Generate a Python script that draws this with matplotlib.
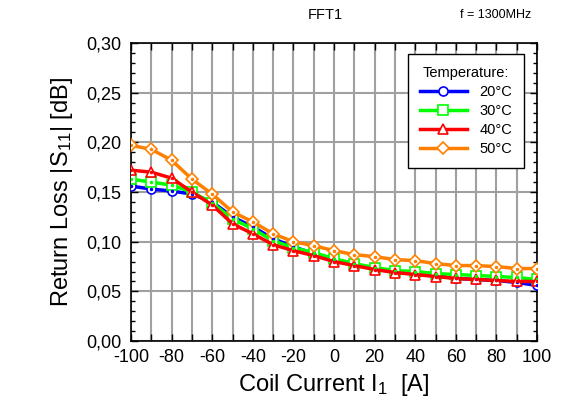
import matplotlib
matplotlib.use("Agg")
import matplotlib.pyplot as plt
from matplotlib.ticker import FuncFormatter, MultipleLocator

plt.rcParams['font.family'] = ['Liberation Sans', 'DejaVu Sans']
plt.rcParams['mathtext.fontset'] = 'custom'
plt.rcParams['mathtext.rm'] = 'Liberation Sans'
plt.rcParams['mathtext.it'] = 'Liberation Sans'
plt.rcParams['axes.unicode_minus'] = False

current = [-100, -90, -80, -70, -60, -50, -40, -30, -20, -10, 0,
           10, 20, 30, 40, 50, 60, 70, 80, 90, 100]

loss_20 = [0.156, 0.153, 0.151, 0.148, 0.140, 0.125, 0.115, 0.103, 0.095, 0.088, 0.082,
           0.077, 0.073, 0.070, 0.068, 0.066, 0.063, 0.062, 0.061, 0.059, 0.056]
loss_30 = [0.163, 0.160, 0.157, 0.150, 0.139, 0.123, 0.113, 0.101, 0.094, 0.089, 0.083,
           0.078, 0.074, 0.071, 0.070, 0.068, 0.067, 0.066, 0.065, 0.064, 0.062]
loss_40 = [0.172, 0.170, 0.164, 0.150, 0.137, 0.118, 0.108, 0.097, 0.091, 0.086, 0.080,
           0.076, 0.072, 0.069, 0.067, 0.065, 0.063, 0.062, 0.061, 0.060, 0.060]
loss_50 = [0.197, 0.193, 0.182, 0.163, 0.148, 0.130, 0.120, 0.108, 0.100, 0.096, 0.091,
           0.087, 0.085, 0.082, 0.081, 0.078, 0.076, 0.076, 0.075, 0.073, 0.073]

series = [
    ('20°C', loss_20, '#0000ff', 'o'),
    ('30°C', loss_30, '#00ff00', 's'),
    ('40°C', loss_40, '#ff0000', '^'),
    ('50°C', loss_50, '#ff8000', 'D'),
]

fig = plt.figure(figsize=(5.63, 4.08), dpi=100)
ax = fig.add_axes([0.2327, 0.164, 0.7213, 0.7306])

for label, values, color, marker in series:
    ms = 6.5 if marker != 'D' else 6
    ax.plot(current, values, color=color, lw=2.5, marker=marker, ms=ms,
            mfc='white', mec=color, mew=1.2, label=label, zorder=3)
    ax.plot(current, values, ls='none', marker='o', ms=1.5, color=color, zorder=4)

ax.set_xlim(-100, 100)
ax.set_ylim(0, 0.30)
ax.xaxis.set_major_locator(MultipleLocator(20))
ax.xaxis.set_minor_locator(MultipleLocator(10))
ax.yaxis.set_major_locator(MultipleLocator(0.05))
ax.yaxis.set_minor_locator(MultipleLocator(0.01))
ax.yaxis.set_major_formatter(FuncFormatter(lambda v, p: f"{v:.2f}".replace('.', ',')))

ax.grid(True, which='major', axis='y', color='#a0a0a0', lw=1.5, zorder=1)
ax.grid(True, which='both', axis='x', color='#a0a0a0', lw=1.5, zorder=1)
ax.set_axisbelow(True)

ax.tick_params(which='both', direction='in', top=True, right=True, labelsize=13)
ax.tick_params(which='major', length=5, width=1)
ax.tick_params(which='minor', length=3, width=1)
ax.tick_params(axis='x', which='minor', length=5)
ax.tick_params(axis='x', pad=6)
ax.tick_params(axis='y', pad=7)
for s in ax.spines.values():
    s.set_linewidth(1.2)

ax.set_xlabel(r'Coil Current I$_{\mathrm{1}}$  [A]', fontsize=17, labelpad=4)
ax.set_ylabel(r'Return Loss |S$_{\mathrm{11}}$| [dB]', fontsize=17, labelpad=8)

fig.text(0.578, 0.963, 'FFT1', fontsize=10.5, ha='center', va='center')
fig.text(0.88, 0.963, 'f = 1300MHz', fontsize=9, ha='center', va='center')

leg = ax.legend(title='Temperature:', loc='upper right', bbox_to_anchor=(0.968, 0.963),
                borderaxespad=0, fontsize=10.5, title_fontsize=10.5, handlelength=3.2,
                handletextpad=0.9, fancybox=False, framealpha=1, edgecolor='black',
                borderpad=0.8, labelspacing=0.35)
leg.get_frame().set_linewidth(1.0)

fig.savefig('out.png', dpi=100)
